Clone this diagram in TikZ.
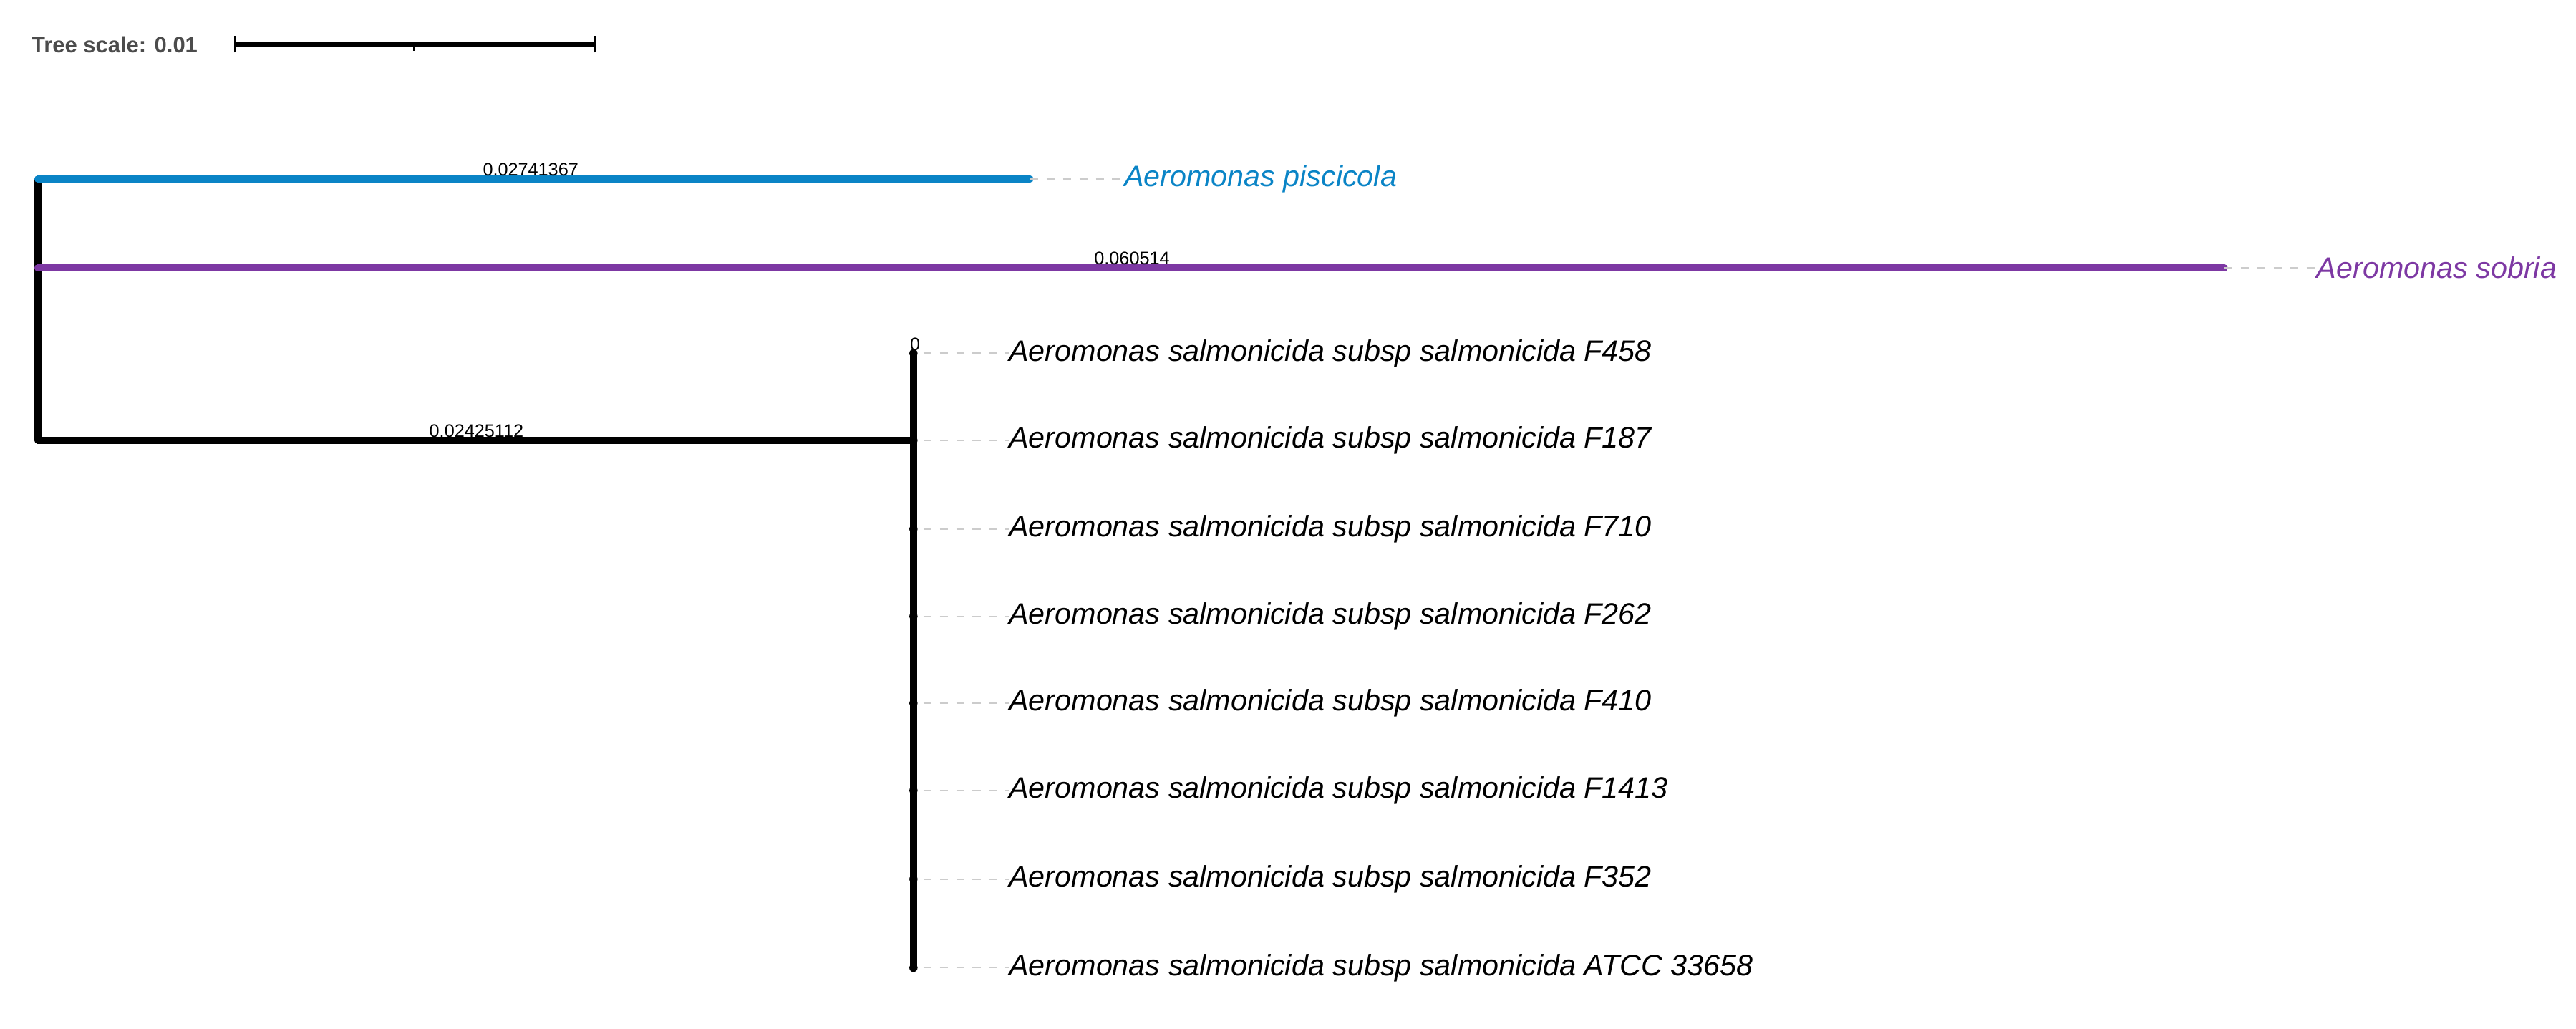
\documentclass[tikz,border=0pt]{standalone}
\usepackage{fontspec}
\setmainfont{Liberation Sans}
\definecolor{bblue}{HTML}{0A84C6}
\definecolor{bpurple}{HTML}{7D38A3}
\definecolor{dgray}{HTML}{CCCCCC}
\begin{document}
\begin{tikzpicture}[x=1pt,y=-1pt,
  br/.style={line width=4.2pt,line cap=round},
  vr/.style={line width=4.2pt},
  lf/.style={anchor=west,inner sep=0pt,font=\fontsize{18}{20}\selectfont\itshape},
  bl/.style={anchor=south,inner sep=1.5pt,font=\fontsize{11}{12}\selectfont},
  dsh/.style={dgray,dashed,dash pattern=on 5pt off 5pt,line width=0.8pt}]
\useasboundingbox (0,0) rectangle (1568,626);
% scale
\node[anchor=west,inner sep=0pt,text=black!70,font=\fontsize{13.5}{15}\selectfont\bfseries] (ts) at (19,27) {Tree scale: 0.01};
\coordinate (s1) at (143,27); \coordinate (s2) at (362,27); \coordinate (sm) at (252,27);
\draw[line width=2.6pt] (s1) -- (s2);
\draw[line width=1pt] ([yshift=-5pt]s1) -- ([yshift=5pt]s1) ([yshift=-5pt]s2) -- ([yshift=5pt]s2) (sm) -- ([yshift=-4pt]sm);
% tree
\coordinate (rt) at (23,109); \coordinate (rb) at (23,268); \coordinate (rm) at (23,163);
\coordinate (cn) at (556,268); \coordinate (ct) at (556,215); \coordinate (cb) at (556,589);
\draw[vr] (rt) -- (rb);
\fill (23,182) circle (2.4pt);
\draw[br,bblue] (rt) -- (627,109) coordinate (pe);
\draw[br,bpurple] (rm) -- (1354,163) coordinate (se);
\draw[br] (rb) -- (cn);
\draw[vr,line cap=round] (ct) -- (cb);
\node[bl] (l1) at (323,109) {0.02741367};
\node[bl] (l2) at (689,163) {0.060514};
\node[bl] (l3) at (290,268) {0.02425112};
\node[bl] (l0) at (557,215) {0};
\node[lf,text=bblue] (pisc) at (684,109) {Aeromonas piscicola};
\node[lf,text=bpurple] (sobr) at (1410,163) {Aeromonas sobria};
\draw[dsh] (pe) -- (pisc.west);
\draw[dsh] (se) -- (sobr.west);
\foreach \y/\n [count=\i] in {215/F458,268/F187,322/F710,375/F262,428/F410,481/F1413,535/F352,589/ATCC 33658}{
  \fill (556,\y) circle (2.5pt);
  \node[lf] (leaf\i) at (614,\y) {Aeromonas salmonicida subsp salmonicida \n};
  \draw[dsh] (562,\y) -- (leaf\i.west);
}
\end{tikzpicture}
\end{document}
